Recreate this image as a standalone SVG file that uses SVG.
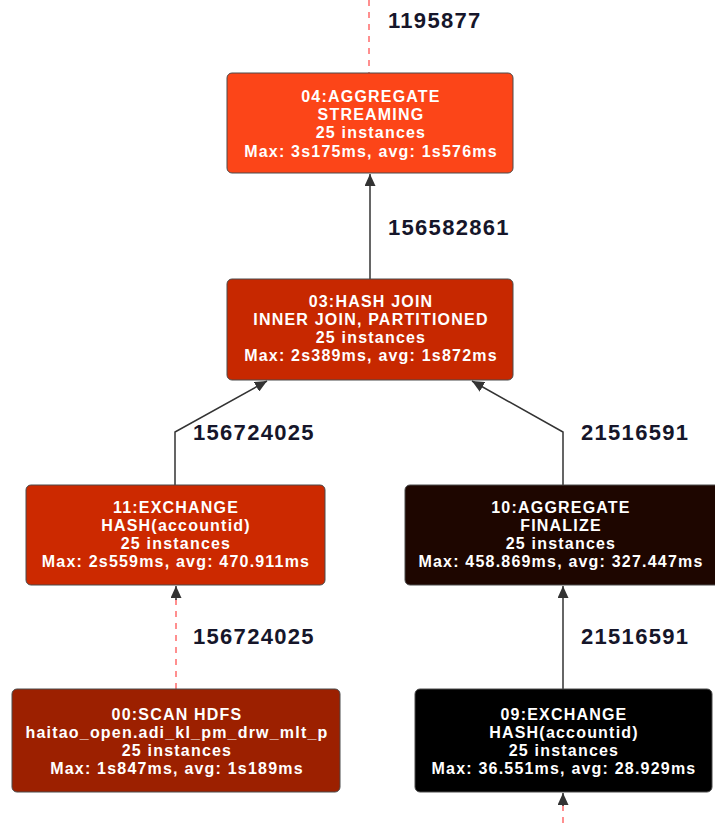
<svg xmlns="http://www.w3.org/2000/svg" width="715" height="823" viewBox="0 0 715 823">
  <style>
    .box { stroke: #4a4a4a; stroke-width: 1; }
    .lbl { font-family: "Liberation Sans", Arial, sans-serif; font-weight: bold; font-size: 16px; letter-spacing: 1.2px; fill: #ffffff; text-anchor: middle; }
    .cnt { font-family: "Liberation Sans", Arial, sans-serif; font-weight: bold; font-size: 22px; letter-spacing: 1.3px; fill: #16162a; }
    .solid { fill: none; stroke: #333333; stroke-width: 1.5; }
    .dash { fill: none; stroke: #ff6b6b; stroke-width: 1.5; stroke-dasharray: 6 6; }
  </style>
  <defs>
    <marker id="arrow" viewBox="0 0 12 11" refX="12" refY="5.5" markerWidth="12" markerHeight="11" orient="auto" markerUnits="userSpaceOnUse">
      <path d="M0,0 L12,5.5 L0,11 z" fill="#333333"/>
    </marker>
  </defs>
  <rect width="715" height="823" fill="#ffffff"/>

  <!-- connectors -->
  <g id="edges">
    <path class="dash" d="M369,0 L369,73"/>
    <path class="solid" d="M370,279 L370,174" marker-end="url(#arrow)"/>
    <path class="solid" d="M175,485 L175,432 L267,381" marker-end="url(#arrow)"/>
    <path class="solid" d="M563,485 L563,432 L472,381" marker-end="url(#arrow)"/>
    <path class="dash" d="M176,689 L176,596"/>
    <path class="solid" d="M176,600 L176,586" marker-end="url(#arrow)"/>
    <path class="solid" d="M563,689 L563,586" marker-end="url(#arrow)"/>
    <path class="dash" d="M563,823 L563,804"/>
    <path class="solid" d="M563,806 L563,793" marker-end="url(#arrow)"/>
  </g>

  <!-- row counts -->
  <g id="edge-labels">
    <text class="cnt" x="388" y="28">1195877</text>
    <text class="cnt" x="388" y="235">156582861</text>
    <text class="cnt" x="193" y="440">156724025</text>
    <text class="cnt" x="581" y="440">21516591</text>
    <text class="cnt" x="193" y="644">156724025</text>
    <text class="cnt" x="581" y="644">21516591</text>
  </g>

  <g id="n04">
    <rect class="box" x="227" y="73" width="286" height="100" rx="5" fill="#fc4518"/>
    <text class="lbl" x="371" y="102">04:AGGREGATE</text>
    <text class="lbl" x="371" y="120">STREAMING</text>
    <text class="lbl" x="371" y="138">25 instances</text>
    <text class="lbl" x="371" y="157">Max: 3s175ms, avg: 1s576ms</text>
  </g>

  <g id="n03">
    <rect class="box" x="227" y="279" width="286" height="101" rx="5" fill="#c72800"/>
    <text class="lbl" x="371" y="307">03:HASH JOIN</text>
    <text class="lbl" x="371" y="325">INNER JOIN, PARTITIONED</text>
    <text class="lbl" x="371" y="343">25 instances</text>
    <text class="lbl" x="371" y="361">Max: 2s389ms, avg: 1s872ms</text>
  </g>

  <g id="n11">
    <rect class="box" x="26" y="485" width="299" height="100" rx="5" fill="#cc2900"/>
    <text class="lbl" x="176" y="513">11:EXCHANGE</text>
    <text class="lbl" x="176" y="531">HASH(accountid)</text>
    <text class="lbl" x="176" y="549">25 instances</text>
    <text class="lbl" x="176" y="567">Max: 2s559ms, avg: 470.911ms</text>
  </g>

  <g id="n10">
    <rect class="box" x="405" y="485" width="318" height="100" rx="5" fill="#1e0600"/>
    <text class="lbl" x="561" y="513">10:AGGREGATE</text>
    <text class="lbl" x="561" y="531">FINALIZE</text>
    <text class="lbl" x="561" y="549">25 instances</text>
    <text class="lbl" x="561" y="567">Max: 458.869ms, avg: 327.447ms</text>
  </g>

  <g id="n00">
    <rect class="box" x="12" y="689" width="328" height="103" rx="5" fill="#9c2000"/>
    <text class="lbl" x="177" y="720">00:SCAN HDFS</text>
    <text class="lbl" x="177" y="738">haitao_open.adi_kl_pm_drw_mlt_p</text>
    <text class="lbl" x="177" y="756">25 instances</text>
    <text class="lbl" x="177" y="774">Max: 1s847ms, avg: 1s189ms</text>
  </g>

  <g id="n09">
    <rect class="box" x="415" y="689" width="297" height="103" rx="5" fill="#000000"/>
    <text class="lbl" x="564" y="720">09:EXCHANGE</text>
    <text class="lbl" x="564" y="738">HASH(accountid)</text>
    <text class="lbl" x="564" y="756">25 instances</text>
    <text class="lbl" x="564" y="774">Max: 36.551ms, avg: 28.929ms</text>
  </g>
</svg>
